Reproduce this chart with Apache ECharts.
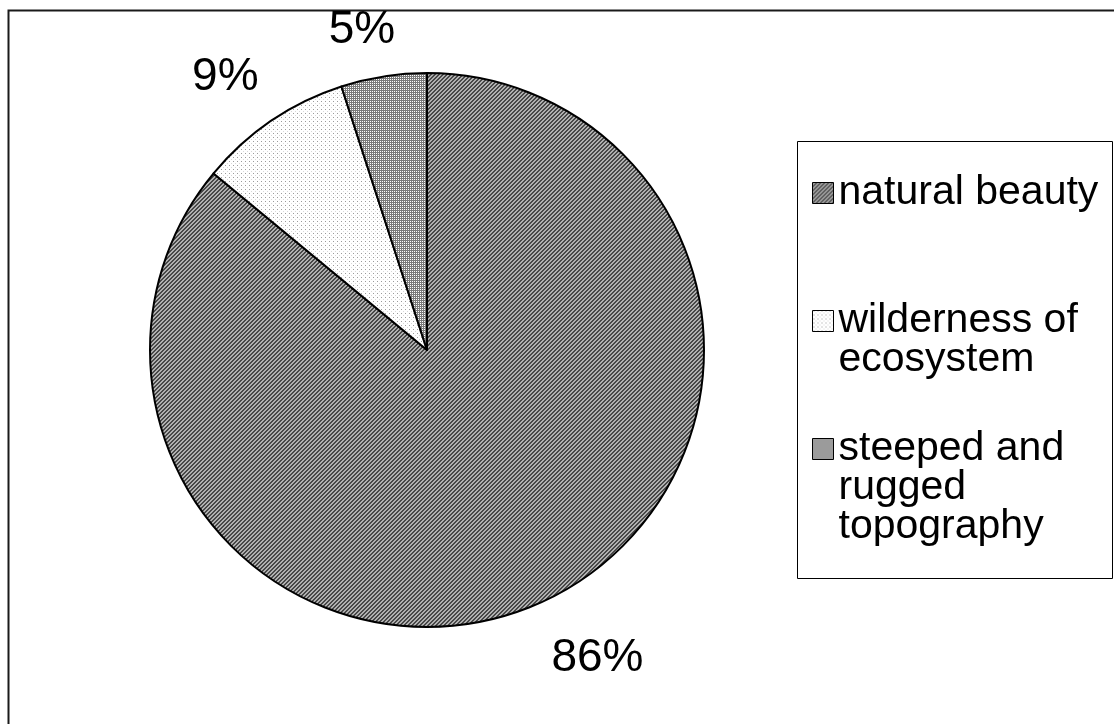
<!DOCTYPE html>
<html>
<head>
<meta charset="utf-8">
<script src="https://cdn.jsdelivr.net/npm/echarts@6/dist/echarts.min.js"></script>
<style>
  html, body { margin: 0; padding: 0; background: #fff; }
  #chart { width: 1114px; height: 724px; }
</style>
</head>
<body>
<div id="chart"></div>
<script>
// Shares of respondents by reason (percent)
const CATEGORIES = ['natural beauty', 'wilderness of ecosystem', 'steeped and rugged topography'];
const SHARES = [86, 9, 5];
// Legend text, wrapped the way it is shown in the key
const LEGEND_LINES = [
  ['natural beauty'],
  ['wilderness of', 'ecosystem'],
  ['steeped and', 'rugged', 'topography']
];

const FONT = 'Liberation Sans, Arial, sans-serif';

// Small repeating bitmaps used as slice fills
function makeTile(w, h, paint) {
  const c = document.createElement('canvas');
  c.width = w; c.height = h;
  const ctx = c.getContext('2d');
  for (let y = 0; y < h; y++) {
    for (let x = 0; x < w; x++) {
      ctx.fillStyle = paint(x, y);
      ctx.fillRect(x, y, 1, 1);
    }
  }
  return c;
}
const hatchDiagonal = makeTile(4, 4, (x, y) => ((x + y) % 4 < 2 ? '#474747' : '#b0b0b0'));
const sparseDots = makeTile(4, 4, (x, y) => (x === 1 && y === 1 ? '#9a9a9a' : (x === 3 && y === 3 ? '#d8d8d8' : '#ffffff')));
const gridDots = makeTile(4, 4, (x, y) => (y % 2 === 1 && x % 2 === 0 ? '#ffffff' : '#7a7a7a'));
const FILLS = [hatchDiagonal, sparseDots, gridDots];

// Label placement: distance beyond the rim and small nudges
const LABEL_REACH = [74, 64, 49];
const LABEL_NUDGE = [[21, -9], [-10, 9], [-14, 2]];

// Key layout
const KEY_FONT = 41;
const KEY_LINE = 39;
const KEY_FIRST_LINE_Y = [192, 320, 448];
const KEY_SWATCH = 21;

// Swatch drawn at the height of an entry's first line; the extra moveTo
// points stretch the icon box over the whole wrapped text block.
function swatchIcon(lines) {
  const h = lines * KEY_LINE;
  const top = KEY_LINE / 2 - KEY_SWATCH / 2;
  return 'path://M0,0 M0,' + h + ' M0,' + top + ' h' + KEY_SWATCH + ' v' + KEY_SWATCH + ' h-' + KEY_SWATCH + ' z';
}

const chart = echarts.init(document.getElementById('chart'), null, { renderer: 'canvas' });

const legends = CATEGORIES.map((name, i) => {
  const n = LEGEND_LINES[i].length;
  return {
    data: [{ name, icon: swatchIcon(n) }],
    orient: 'vertical',
    left: 812,
    top: KEY_FIRST_LINE_Y[i] - KEY_LINE / 2,
    padding: 0,
    itemGap: 0,
    itemWidth: KEY_SWATCH,
    itemHeight: n * KEY_LINE,
    selectedMode: false,
    formatter: () => LEGEND_LINES[i].join('\n'),
    itemStyle: { borderColor: '#000', borderWidth: 1 },
    textStyle: {
      fontFamily: FONT,
      fontSize: KEY_FONT,
      lineHeight: KEY_LINE,
      color: '#000'
    }
  };
});

chart.setOption({
  backgroundColor: '#fff',
  animation: false,
  graphic: [
    {
      type: 'rect',
      left: 6, top: 8,
      shape: { width: 1200, height: 800 },
      style: { fill: 'none', stroke: '#1a1a1a', lineWidth: 2 },
      silent: true
    },
    {
      type: 'rect',
      left: 797, top: 141,
      shape: { width: 315, height: 437 },
      style: { fill: '#fff', stroke: '#000', lineWidth: 1 },
      silent: true
    }
  ],
  legend: legends,
  series: [{
    type: 'pie',
    center: [427, 350],
    radius: 277,
    startAngle: 90,
    clockwise: true,
    avoidLabelOverlap: false,
    silent: true,
    emphasis: { disabled: true },
    itemStyle: { borderColor: '#000', borderWidth: 2 },
    label: {
      show: true,
      position: 'outside',
      formatter: '{c}%',
      fontFamily: FONT,
      fontSize: 46,
      color: '#000',
      distanceToLabelLine: 0
    },
    labelLine: { show: false, length2: 0 },
    labelLayout: (params) => ({
      align: 'center',
      verticalAlign: 'middle',
      dx: LABEL_NUDGE[params.dataIndex][0],
      dy: LABEL_NUDGE[params.dataIndex][1]
    }),
    data: CATEGORIES.map((name, i) => ({
      name,
      value: SHARES[i],
      itemStyle: { color: { image: FILLS[i], repeat: 'repeat' } },
      labelLine: { show: false, length: LABEL_REACH[i], length2: 0 }
    }))
  }]
});
</script>
</body>
</html>
